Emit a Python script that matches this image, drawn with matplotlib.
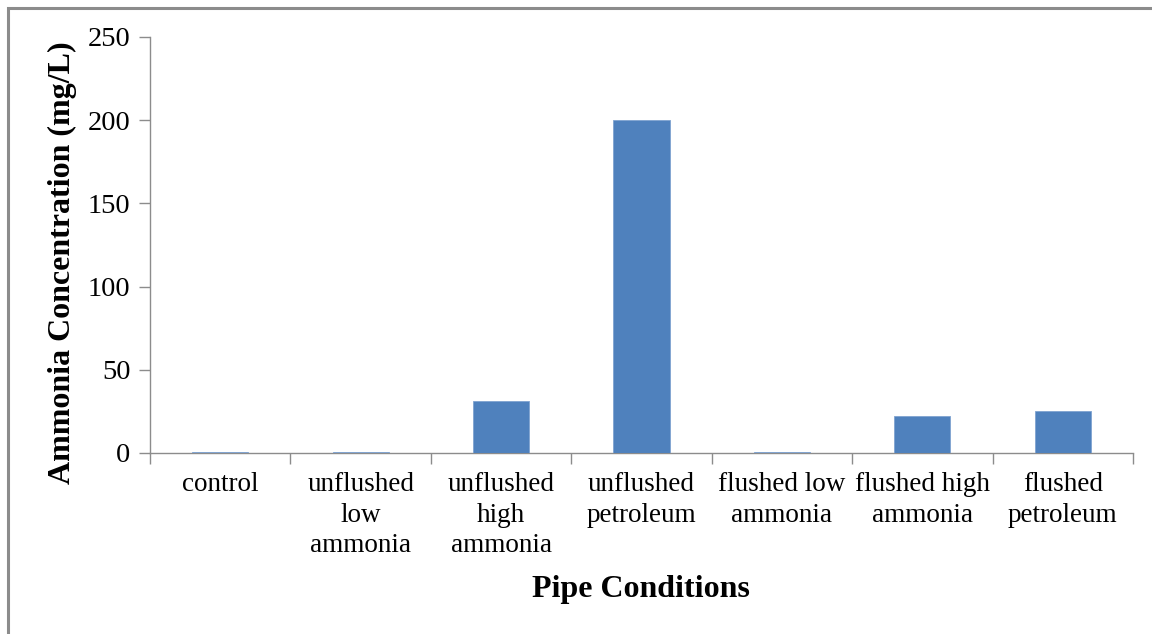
import matplotlib
matplotlib.use("Agg")
import matplotlib.pyplot as plt
from matplotlib.patches import Rectangle

categories = ["control", "unflushed\nlow\nammonia", "unflushed\nhigh\nammonia",
              "unflushed\npetroleum", "flushed low\nammonia", "flushed high\nammonia",
              "flushed\npetroleum"]
values = [0.8, 0.8, 31.2, 200.0, 0.8, 22.2, 25.2]
yticks = [0, 50, 100, 150, 200, 250]

plt.rcParams['font.family'] = ['Liberation Serif', 'DejaVu Serif']

fig = plt.figure(figsize=(11.52, 6.34), dpi=100)
fig.patches.append(Rectangle((8/1152, -0.1), 1.2, 1 - 8/634 + 0.1, transform=fig.transFigure,
                             fill=False, edgecolor='#8c8c8c', linewidth=2.2))
ax = fig.add_axes([150/1152, 1 - 453/634, 983/1152, 416/634])

x = list(range(len(categories)))
ax.bar(x, values, width=0.4, color='#4F81BD', edgecolor='#7fa3d0', linewidth=0.6, zorder=3)
ax.set_xlim(-0.5, len(categories) - 0.5)
ax.set_ylim(0, 250)
ax.set_yticks(yticks)
ax.set_yticklabels([str(v) for v in yticks], fontsize=20.5)
ax.set_xticks(x)
ax.set_xticklabels(categories, fontsize=19.5, linespacing=1.28, va='top')
ax.tick_params(axis='x', length=0, pad=14)
ax.set_xticks([i + 0.5 for i in range(-1, len(categories))], minor=True)
ax.tick_params(axis='x', which='minor', length=8, color='#8c8c8c', width=1)
ax.tick_params(axis='y', length=8, color='#8c8c8c', width=1, pad=6)

for s in ['top', 'right']:
    ax.spines[s].set_visible(False)
for s in ['left', 'bottom']:
    ax.spines[s].set_color('#8c8c8c')
    ax.spines[s].set_linewidth(1)

fig.text(62/1152, 1 - 263/634, "Ammonia Concentration (mg/L)", fontsize=23, fontweight='bold',
         rotation=90, ha='center', va='center')
fig.text(641/1152, 1 - 589/634, "Pipe Conditions", fontsize=23, fontweight='bold',
         ha='center', va='center')

fig.savefig("out.png", dpi=100)
